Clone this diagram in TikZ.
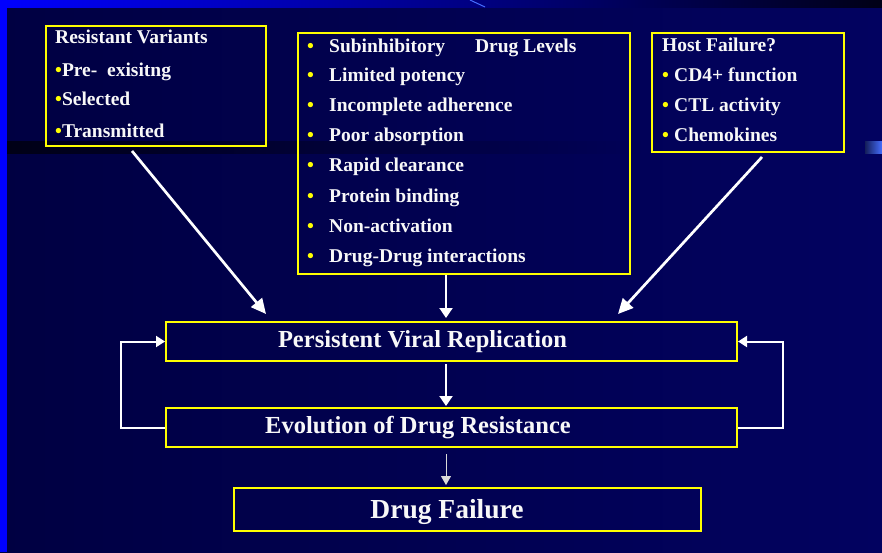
\documentclass[tikz,border=0pt]{standalone}
\usepackage{fontspec}
\setmainfont{Liberation Serif}
\usetikzlibrary{arrows.meta,calc}
\definecolor{bgL}{RGB}{0,0,66}
\definecolor{bgR}{RGB}{2,2,96}
\definecolor{ylw}{RGB}{255,255,0}
\definecolor{txt}{RGB}{248,248,248}
\definecolor{topL}{RGB}{0,0,255}
\definecolor{topM}{RGB}{0,0,150}
\definecolor{topR}{RGB}{0,0,22}
\definecolor{bandL}{RGB}{0,0,22}
\definecolor{stubL}{RGB}{20,30,90}
\definecolor{stubR}{RGB}{70,110,255}
\newcommand\ybul{\textcolor{ylw}{\textbullet}}
\tikzset{
  box/.style={draw=ylw, line width=2pt, rectangle, inner sep=0pt, anchor=north west},
  ltxt/.style={anchor=base west, text=txt, inner sep=0pt, font=\bfseries\fontsize{19.5}{22}\selectfont},
  btxt/.style={anchor=base, text=txt, inner sep=0pt, font=\bfseries\fontsize{24.5}{28}\selectfont},
  bul/.style={anchor=base west, inner sep=0pt, font=\bfseries\fontsize{19.5}{22}\selectfont},
  arrbig/.style={draw=white, line width=2.7pt, -{Triangle[length=15pt,width=14pt]}},
  arrmid/.style={draw=white, line width=2pt, -{Triangle[length=10pt,width=13pt]}},
  arrloop/.style={draw=white, line width=2pt, -{Triangle[length=9pt,width=11pt]}},
  arrthin/.style={draw=white!85!black, line width=0.9pt, -{Triangle[length=9pt,width=10pt]}},
}
\begin{document}
\begin{tikzpicture}[x=1pt,y=-1pt]
\useasboundingbox (0,0) rectangle (882,552);
% background
\shade[left color=bgL, right color=bgR] (0,0) rectangle (882,552);
\shade[left color=topL, middle color=topM, right color=topR] (0,0) rectangle (882,7);
\fill[blue] (0,0) rectangle (7,552);
\draw[color=stubR, line width=1pt] (470,0) -- (485,7);
\shade[left color=bandL, right color=bgR!70!bgL] (7,141) rectangle (640,153);
\shade[left color=stubL, right color=stubR] (865,141) rectangle (882,153);

% boxes
\node[box, minimum width=220pt, minimum height=120pt] (b1) at (45,25) {};
\node[box, minimum width=332pt, minimum height=241pt] (b2) at (297,32) {};
\node[box, minimum width=192pt, minimum height=119pt] (b3) at (651,32) {};
\node[box, minimum width=571pt, minimum height=39pt] (pvr) at (165,321) {};
\node[box, minimum width=571pt, minimum height=39pt] (edr) at (165,407) {};
\node[box, minimum width=467pt, minimum height=43pt] (df) at (233,487) {};

% box 1 text
\node[ltxt] (t11) at (55,43) {Resistant Variants};
\node[ltxt] (t12) at (55,76) {\ybul Pre-\ \ exisitng};
\node[ltxt] (t13) at (55,105) {\ybul Selected};
\node[ltxt] (t14) at (55,137) {\ybul Transmitted};

% box 2 text
\foreach \yy/\tt [count=\i] in {
  52/{Subinhibitory\hspace{30pt}Drug Levels},
  81/{Limited potency},
  111/{Incomplete adherence},
  141/{Poor absorption},
  171/{Rapid clearance},
  202/{Protein binding},
  232/{Non-activation},
  262/{Drug-Drug interactions}}{
  \node[bul] (bb\i) at (307,\yy) {\ybul};
  \node[ltxt] (t2\i) at (329,\yy) {\tt};
}

% box 3 text
\node[ltxt] (t31) at (662,51) {Host Failure?};
\node[bul] (c2) at (662,81) {\ybul};
\node[ltxt] (t32) at (674,81) {CD4+ function};
\node[bul] (c3) at (662,111) {\ybul};
\node[ltxt] (t33) at (674,111) {CTL activity};
\node[bul] (c4) at (662,141) {\ybul};
\node[ltxt] (t34) at (674,141) {Chemokines};

% main texts
\node[btxt] (tp) at (422.5,347) {Persistent Viral Replication};
\node[btxt] (te) at (418,433) {Evolution of Drug Resistance};
\node[btxt, font=\bfseries\fontsize{27.5}{30}\selectfont] (td) at (447,518) {Drug Failure};

% connectors
\coordinate (mx) at (446,0);
\draw[arrbig] ($(b1.south west)+(87,4)$) -- ($(pvr.north west)+(101,-7)$);
\draw[arrbig] ($(b3.south west)+(111,4)$) -- ($(pvr.north east)+(-120,-7)$);
\draw[arrmid] (b2.south -| mx) -- ($(pvr.north -| mx)+(0,-3)$);
\draw[arrmid] ($(pvr.south -| mx)+(0,2)$) -- ($(edr.north -| mx)+(0,-1)$);
\draw[arrthin] ($(edr.south -| mx)+(0,6)$) -- ($(df.north -| mx)+(0,-2)$);
\draw[arrloop] (edr.west) -- ++(-44,0) |- (pvr.west);
\draw[arrloop] (edr.east) -- ++(45,0) |- (pvr.east);
\end{tikzpicture}
\end{document}
